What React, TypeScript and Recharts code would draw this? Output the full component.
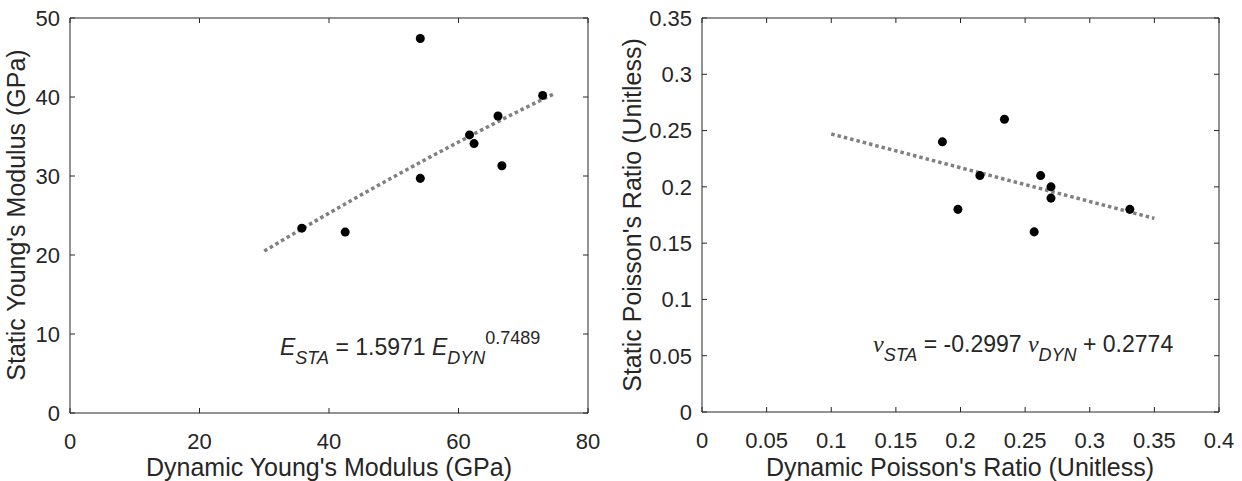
import { ComposedChart, Scatter, Line, XAxis, YAxis } from "recharts";

// left panel: Young's modulus (GPa)
const youngDyn = [54.1, 73.0, 66.1, 61.7, 62.4, 66.7, 54.1, 35.8, 42.5];
const youngSta = [47.4, 40.2, 37.6, 35.2, 34.1, 31.3, 29.7, 23.4, 22.9];
const youngFitDyn = [30, 40, 50, 60, 70, 75];
const youngFitSta = [20.5, 25.3, 29.9, 34.3, 38.5, 40.5];
const youngXTicks = [0, 20, 40, 60, 80];
const youngYTicks = [0, 10, 20, 30, 40, 50];

// right panel: Poisson's ratio
const poissonDyn = [0.186, 0.234, 0.215, 0.198, 0.262, 0.27, 0.27, 0.257, 0.331];
const poissonSta = [0.24, 0.26, 0.21, 0.18, 0.21, 0.2, 0.19, 0.16, 0.18];
const poissonFitDyn = [0.1, 0.35];
const poissonFitSta = [0.247, 0.172];
const poissonXTicks = [0, 0.05, 0.1, 0.15, 0.2, 0.25, 0.3, 0.35, 0.4];
const poissonYTicks = [0, 0.05, 0.1, 0.15, 0.2, 0.25, 0.3, 0.35];

const INK = "#262626";
const FONT = "'Liberation Sans', Arial, sans-serif";
const TL = 5; // inward tick length
const XM = 20; // gap between x axis and label top
const YM = 10; // gap between y axis and label end

const zip = (xs: number[], ys: number[]) => xs.map((x, i) => ({ x, y: ys[i] }));

// ticks drawn by hand so they point into the plot like matlab's
const BottomTick = ({ x, y, payload }: any) => (
  <g>
    <line x1={x} x2={x} y1={y - XM} y2={y - XM - TL} stroke={INK} strokeWidth={1} />
    <text x={x} y={y} dy="0.71em" textAnchor="middle" fontSize={22} fill={INK} fontFamily={FONT}>
      {String(payload.value)}
    </text>
  </g>
);
const LeftTick = ({ x, y, payload }: any) => (
  <g>
    <line x1={x + YM} x2={x + YM + TL} y1={y} y2={y} stroke={INK} strokeWidth={1} />
    <text x={x} y={y} dy="0.355em" textAnchor="end" fontSize={22} fill={INK} fontFamily={FONT}>
      {String(payload.value)}
    </text>
  </g>
);
const TopTick = ({ x, y }: any) => <line x1={x} x2={x} y1={y} y2={y + TL} stroke={INK} strokeWidth={1} />;
const RightTick = ({ x, y }: any) => <line x1={x} x2={x - TL} y1={y} y2={y} stroke={INK} strokeWidth={1} />;

type PanelProps = {
  pts: { x: number; y: number }[];
  fit: { x: number; y: number }[];
  xTicks: number[];
  yTicks: number[];
  yAxisWidth: number;
  right: number;
  xAxisHeight: number;
};

function Panel({ pts, fit, xTicks, yTicks, yAxisWidth, right, xAxisHeight }: PanelProps) {
  const xDomain = [xTicks[0], xTicks[xTicks.length - 1]];
  const yDomain = [yTicks[0], yTicks[yTicks.length - 1]];
  const axisLine = { stroke: INK, strokeWidth: 1 };
  return (
    <ComposedChart width={621} height={481} margin={{ top: 17, right: right - 1, bottom: 0, left: 0 }}>
      <XAxis
        dataKey="x"
        type="number"
        domain={xDomain}
        ticks={xTicks}
        interval={0}
        height={xAxisHeight}
        tickSize={0}
        tickMargin={XM}
        tick={<BottomTick />}
        tickLine={false}
        axisLine={axisLine}
      />
      <XAxis
        xAxisId="top"
        orientation="top"
        dataKey="x"
        type="number"
        domain={xDomain}
        ticks={xTicks}
        interval={0}
        height={1}
        tickSize={0}
        tickMargin={0}
        tick={<TopTick />}
        tickLine={false}
        axisLine={axisLine}
      />
      <YAxis
        type="number"
        domain={yDomain}
        ticks={yTicks}
        interval={0}
        width={yAxisWidth}
        tickSize={0}
        tickMargin={YM}
        tick={<LeftTick />}
        tickLine={false}
        axisLine={axisLine}
      />
      <YAxis
        yAxisId="right"
        orientation="right"
        type="number"
        domain={yDomain}
        ticks={yTicks}
        interval={0}
        width={1}
        tickSize={0}
        tickMargin={0}
        tick={<RightTick />}
        tickLine={false}
        axisLine={axisLine}
      />
      <Scatter data={pts} dataKey="y" fill="#000000" isAnimationActive={false} />
      <Line
        data={fit}
        dataKey="y"
        xAxisId="top"
        yAxisId="right"
        type="monotone"
        stroke="#808080"
        strokeWidth={3.5}
        strokeDasharray="3.5 3"
        dot={false}
        activeDot={false}
        isAnimationActive={false}
      />
    </ComposedChart>
  );
}

export default function App() {
  const sub = { fontSize: 18, fontStyle: "italic" as const };
  const nu = { fontStyle: "italic" as const, fontFamily: "'Liberation Serif', serif", fontSize: 24 };
  return (
    <div style={{ position: "absolute", left: 0, top: 0, width: 1242, height: 481, background: "#fff" }}>
      <div style={{ position: "absolute", left: 0, top: 0 }}>
        <Panel
          pts={zip(youngDyn, youngSta)}
          fit={zip(youngFitDyn, youngFitSta)}
          xTicks={youngXTicks}
          yTicks={youngYTicks}
          yAxisWidth={70}
          right={33}
          xAxisHeight={68}
        />
      </div>
      <div style={{ position: "absolute", left: 621, top: 0 }}>
        <Panel
          pts={zip(poissonDyn, poissonSta)}
          fit={zip(poissonFitDyn, poissonFitSta)}
          xTicks={poissonXTicks}
          yTicks={poissonYTicks}
          yAxisWidth={81}
          right={23}
          xAxisHeight={69}
        />
      </div>
      <svg
        width={1242}
        height={481}
        style={{ position: "absolute", left: 0, top: 0, pointerEvents: "none" }}
        fontFamily={FONT}
        fill={INK}
      >
        <text x={329} y={476} fontSize={25} textAnchor="middle">Dynamic Young's Modulus (GPa)</text>
        <text x={25} y={215} fontSize={25} textAnchor="middle" transform="rotate(-90 25 215)">
          Static Young's Modulus (GPa)
        </text>
        <text x={960} y={476} fontSize={25} textAnchor="middle">Dynamic Poisson's Ratio (Unitless)</text>
        <text x={641} y={215} fontSize={25} textAnchor="middle" transform="rotate(-90 641 215)">
          Static Poisson's Ratio (Unitless)
        </text>

        <text x={280} y={355} fontSize={23}>
          <tspan fontStyle="italic">E</tspan>
          <tspan dy={9} {...sub}>STA</tspan>
          <tspan dy={-9}> = 1.5971 </tspan>
          <tspan fontStyle="italic">E</tspan>
          <tspan dy={9} {...sub}>DYN</tspan>
          <tspan dy={-20} fontSize={18}>0.7489</tspan>
        </text>

        <text x={873} y={352} fontSize={23}>
          <tspan {...nu}>ν</tspan>
          <tspan dy={9} {...sub}>STA</tspan>
          <tspan dy={-9}> = -0.2997 </tspan>
          <tspan {...nu}>ν</tspan>
          <tspan dy={9} {...sub}>DYN</tspan>
          <tspan dy={-9}> + 0.2774</tspan>
        </text>
      </svg>
    </div>
  );
}
